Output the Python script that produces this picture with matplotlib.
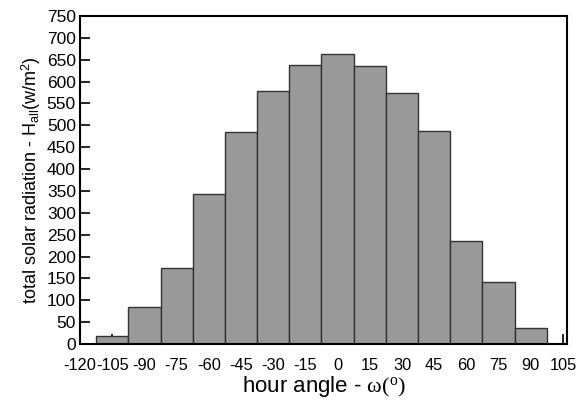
import matplotlib
matplotlib.use("Agg")
import matplotlib.pyplot as plt

hour_angles = [-105, -90, -75, -60, -45, -30, -15, 0, 15, 30, 45, 60, 75, 90]
radiation = [19, 85, 173, 342, 484, 578, 638, 662, 636, 573, 487, 235, 142, 36]
xticks = list(range(-120, 106, 15))
yticks = list(range(0, 751, 50))

plt.rcParams['font.family'] = ['Liberation Sans', 'DejaVu Sans']
plt.rcParams['mathtext.fontset'] = 'custom'
plt.rcParams['mathtext.rm'] = 'Liberation Serif'
plt.rcParams['mathtext.it'] = 'Liberation Serif:italic'
plt.rcParams['mathtext.sf'] = 'Liberation Sans'

fig = plt.figure(figsize=(5.8, 4.0), dpi=100)
ax = fig.add_axes([0.138, 0.14, 0.84, 0.82])

ax.bar(hour_angles, radiation, width=15, color='#999999', edgecolor='#333333', linewidth=1.0, zorder=2)

ax.set_xlim(-120, 107)
ax.set_ylim(0, 750)
ax.set_xticks(xticks)
ax.set_xticklabels([str(t) for t in xticks])
ax.set_yticks(yticks)
ax.tick_params(axis='both', direction='in', length=7, width=1.2, color='black')
ax.tick_params(axis='x', pad=10, labelsize=11.8)
ax.tick_params(axis='y', pad=3, labelsize=12.5)
for s in ax.spines.values():
    s.set_linewidth(1.5)

ax.set_xlabel(r"hour angle - $\mathrm{\omega(^o)}$", fontsize=16, labelpad=1)
ax.set_ylabel(r"total solar radiation - H$_{\mathsf{all}}$(w/m$^{\mathsf{2}}$)", fontsize=13, labelpad=3)

fig.savefig("out.png", dpi=100)
